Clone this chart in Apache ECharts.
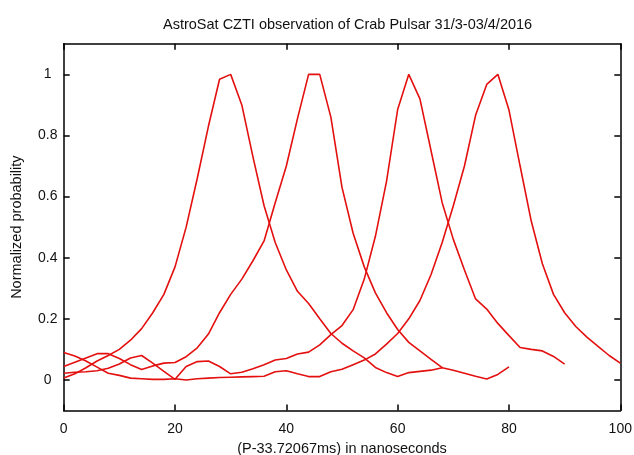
<!DOCTYPE html>
<html>
<head>
<meta charset="utf-8">
<script src="https://cdn.jsdelivr.net/npm/echarts@6/dist/echarts.min.js"></script>
<style>
  html, body { margin: 0; padding: 0; background: #fff; }
  #main { width: 634px; height: 455px; }
</style>
</head>
<body>
<div id="main"></div>
<script>
// delay in ns, step of 2
const xValues = [0, 2, 4, 6, 8, 10, 12, 14, 16, 18, 20, 22, 24, 26, 28, 30, 32, 34, 36, 38, 40,
  42, 44, 46, 48, 50, 52, 54, 56, 58, 60, 62, 64, 66, 68, 70, 72, 74, 76, 78, 80,
  82, 84, 86, 88, 90, 92, 94, 96, 98, 100];

// normalized probability of each curve
const curveA = [0.006, 0.02, 0.04, 0.062, 0.08, 0.1, 0.13, 0.168, 0.22, 0.28, 0.37,
  0.5, 0.66, 0.83, 0.984, 1.0, 0.9, 0.73, 0.57, 0.45, 0.36,
  0.29, 0.25, 0.2, 0.152, 0.12, 0.095, 0.072, 0.041, 0.024, 0.011,
  0.024, 0.028, 0.032, 0.04, 0.032, 0.022, 0.012, 0.003, 0.018, 0.043];
const curveB = [0.044, 0.058, 0.072, 0.086, 0.086, 0.07, 0.05, 0.034, 0.046, 0.055, 0.057,
  0.076, 0.105, 0.15, 0.22, 0.28, 0.33, 0.39, 0.455, 0.58, 0.70,
  0.855, 1.0, 1.0, 0.86, 0.63, 0.48, 0.37, 0.285, 0.22, 0.165,
  0.123, 0.095, 0.067, 0.04];
const curveC = [0.022, 0.025, 0.027, 0.03, 0.038, 0.052, 0.072, 0.08, 0.055, 0.028, 0.002,
  0.044, 0.06, 0.062, 0.044, 0.02, 0.025, 0.037, 0.05, 0.065, 0.07,
  0.085, 0.091, 0.115, 0.148, 0.178, 0.23, 0.33, 0.47, 0.65, 0.885,
  1.0, 0.92, 0.75, 0.58, 0.46, 0.36, 0.265, 0.232, 0.185, 0.145,
  0.106, 0.1, 0.095, 0.077, 0.052];
const curveD = [0.09, 0.078, 0.062, 0.042, 0.022, 0.015, 0.006, 0.004, 0.002, 0.002, 0.004,
  0.0, 0.004, 0.006, 0.008, 0.009, 0.01, 0.011, 0.012, 0.027, 0.03,
  0.02, 0.011, 0.011, 0.027, 0.035, 0.05, 0.065, 0.085, 0.117, 0.152,
  0.2, 0.26, 0.345, 0.45, 0.57, 0.7, 0.866, 0.967, 1.0, 0.883,
  0.7, 0.52, 0.38, 0.28, 0.22, 0.175, 0.14, 0.11, 0.08, 0.055];

const yTicks = [0, 0.2, 0.4, 0.6, 0.8, 1];
const yTickLabels = ['0', '0.2', '0.4', '0.6', '0.8', '1'];

const lineColor = '#e3100f';
const font = 'Liberation Sans, Arial, sans-serif';

function pairs(ys) {
    return ys.map((y, i) => [xValues[i], y]);
}

const chart = echarts.init(document.getElementById('main'));

const tickStyle = { show: true, inside: true, length: 6, lineStyle: { color: '#000', width: 1.5 } };
const axisLine = { show: true, onZero: false, lineStyle: { color: '#000', width: 1.5 } };

const option = {
    animation: false,
    backgroundColor: '#fff',
    title: {
        text: 'AstroSat CZTI observation of Crab Pulsar 31/3-03/4/2016',
        left: 158,
        top: 12,
        textStyle: { fontFamily: font, fontSize: 14.5, fontWeight: 'normal', color: '#111' }
    },
    grid: { left: 63.7, right: 13.7, top: 43.8, bottom: 44.5, outerBoundsMode: 'none', containLabel: false },
    xAxis: [
        {
            type: 'value', min: 0, max: 100, interval: 20, position: 'bottom',
            name: '(P-33.72067ms) in nanoseconds',
            nameLocation: 'middle', nameGap: 28,
            nameTextStyle: { fontFamily: font, fontSize: 14.5, color: '#111' },
            axisLine: axisLine, axisTick: tickStyle,
            axisLabel: { fontFamily: font, fontSize: 14, color: '#111', margin: 12 },
            splitLine: { show: false }
        },
        {
            type: 'value', min: 0, max: 100, interval: 20, position: 'top',
            axisLine: axisLine, axisTick: tickStyle,
            axisLabel: { show: false }, splitLine: { show: false }
        }
    ],
    yAxis: [
        {
            type: 'value', min: -0.1, max: 1.1, position: 'left',
            name: 'Normalized probability',
            nameLocation: 'middle', nameGap: 39,
            nameTextStyle: { fontFamily: font, fontSize: 14.5, color: '#111' },
            axisLine: axisLine,
            axisTick: Object.assign({}, tickStyle, { customValues: yTicks }),
            axisLabel: {
                fontFamily: font, fontSize: 14, color: '#111', margin: 16, align: 'center',
                customValues: yTicks,
                formatter: (v) => yTickLabels[yTicks.indexOf(v)] ?? String(v)
            },
            splitLine: { show: false }
        },
        {
            type: 'value', min: -0.1, max: 1.1, position: 'right',
            axisLine: axisLine,
            axisTick: Object.assign({}, tickStyle, { customValues: yTicks }),
            axisLabel: { show: false, customValues: yTicks },
            splitLine: { show: false }
        }
    ],
    series: [curveA, curveB, curveC, curveD].map((ys) => ({
        type: 'line',
        data: pairs(ys),
        showSymbol: false,
        symbol: 'none',
        lineStyle: { color: lineColor, width: 1.6 },
        itemStyle: { color: lineColor }
    }))
};

chart.setOption(option);
</script>
</body>
</html>
